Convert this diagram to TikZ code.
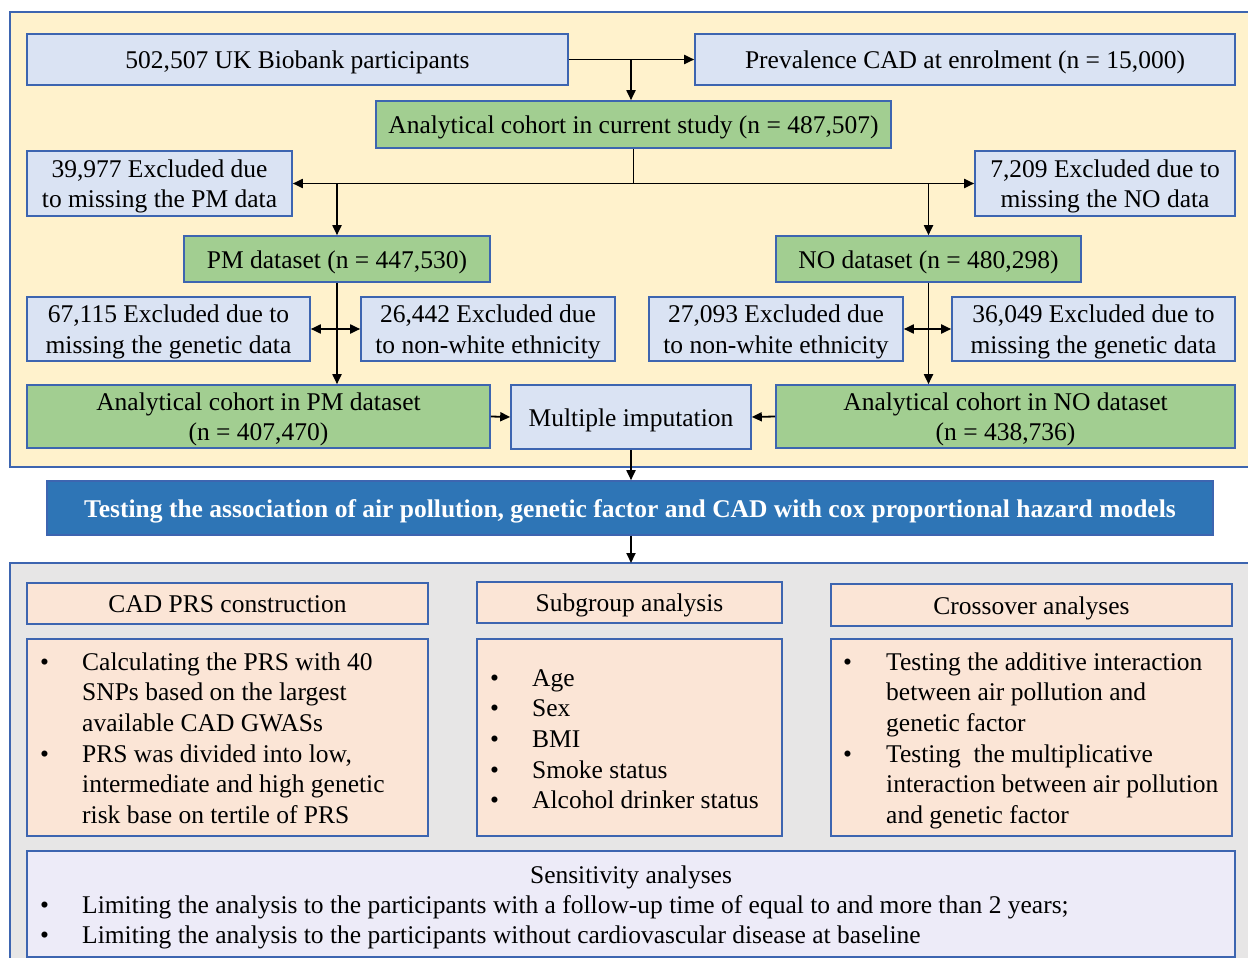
\documentclass[tikz,border=0pt]{standalone}
\usepackage{fontspec}
\setmainfont{Liberation Serif}
\usetikzlibrary{arrows.meta}
\definecolor{bord}{HTML}{3D65B0}
\definecolor{lblue}{HTML}{DAE3F3}
\definecolor{lgreen}{HTML}{A2CE91}
\definecolor{lyel}{HTML}{FFF2CC}
\definecolor{bannerc}{HTML}{2E75B6}
\definecolor{lgray}{HTML}{E7E6E6}
\definecolor{peach}{HTML}{FBE5D6}
\definecolor{lav}{HTML}{EDEBF8}
\newcommand\twol[2]{\begin{tabular}{@{}c@{}}#1\\#2\end{tabular}}
\begin{document}
\begin{tikzpicture}[x=1pt,y=-1pt,
  font=\fontsize{25.5}{30.7}\selectfont,
  box/.style={draw=bord, line width=1.6pt, inner sep=0pt, text height=23pt, text depth=5pt},
  bluebox/.style={box, fill=lblue},
  greenbox/.style={box, fill=lgreen},
  peachbox/.style={box, fill=peach},
  panel/.style={draw=bord, line width=1.6pt},
  listtext/.style={anchor=base west, inner sep=0pt},
  arr/.style={-{Triangle[length=10pt,width=9pt]}, line width=1.8pt},
  darr/.style={{Triangle[length=10pt,width=9pt]}-{Triangle[length=10pt,width=9pt]}, line width=1.8pt}]
\useasboundingbox (0,0) rectangle (1248,958);
\fill[white] (0,0) rectangle (1248,958);
% panels
\draw[panel, fill=lyel] (10,12) rectangle (1254,467);
\draw[panel, fill=lgray] (10,563) rectangle (1254,964);
% top flow
\node[bluebox, minimum width=541pt, minimum height=51pt] (b1) at (297.5,59.5) {502,507 UK Biobank participants};
\node[bluebox, minimum width=540pt, minimum height=51pt] (b2) at (965,59.5) {Prevalence CAD at enrolment (n = 15,000)};
\node[greenbox, minimum width=515pt, minimum height=47pt] (coh) at (633.5,124.5) {Analytical cohort in current study (n = 487,507)};
\node[bluebox, minimum width=265pt, minimum height=65pt] (b3) at (159.5,183.5) {\twol{39,977 Excluded due}{to missing the PM data}};
\node[bluebox, minimum width=260pt, minimum height=65pt] (b4) at (1105,183.5) {\twol{7,209 Excluded due to}{missing the NO data}};
\node[greenbox, minimum width=306pt, minimum height=46pt] (pm) at (337,259) {PM dataset (n = 447,530)};
\node[greenbox, minimum width=305pt, minimum height=46pt] (no) at (928.5,259) {NO dataset (n = 480,298)};
\node[bluebox, minimum width=283pt, minimum height=64pt] (b5) at (168.5,329) {\twol{67,115 Excluded due to}{missing the genetic data}};
\node[bluebox, minimum width=254pt, minimum height=64pt] (b6) at (488,329) {\twol{26,442 Excluded due}{to non-white ethnicity}};
\node[bluebox, minimum width=254pt, minimum height=64pt] (b7) at (776,329) {\twol{27,093 Excluded due}{to non-white ethnicity}};
\node[bluebox, minimum width=283pt, minimum height=64pt] (b8) at (1093.5,329) {\twol{36,049 Excluded due to}{missing the genetic data}};
\node[greenbox, minimum width=463pt, minimum height=63pt] (pmc) at (258.5,416.5) {\twol{Analytical cohort in PM dataset}{(n = 407,470)}};
\node[bluebox, minimum width=240pt, minimum height=64pt] (mi) at (631,417) {Multiple imputation};
\node[greenbox, minimum width=459pt, minimum height=63pt] (noc) at (1005.5,416.5) {\twol{Analytical cohort in NO dataset}{(n = 438,736)}};
\node[box, fill=bannerc, text=white, font=\fontsize{25.5}{30.7}\selectfont\bfseries, minimum width=1166pt, minimum height=54pt] (ban) at (630,508) {Testing the association of air pollution, genetic factor and CAD with cox proportional hazard models};
% connectors
\coordinate (j1) at (b1.east -| mi.north);
\draw[arr] (b1.east) -- (b2.west);
\draw[arr] (j1) -- (j1 |- coh.north);
\coordinate (j2) at (coh.south |- b3.east);
\draw[line width=1.8pt] (coh.south) -- (j2);
\draw[arr] (j2) -- (b3.east);
\draw[arr] (j2) -- (b4.west);
\draw[arr] (pm.north |- b3.east) -- (pm.north);
\draw[arr] (no.north |- b4.west) -- (no.north);
\draw[arr] (pm.south) -- (pm.south |- pmc.north);
\draw[darr] (b5.east) -- (b6.west);
\draw[arr] (no.south) -- (no.south |- noc.north);
\draw[darr] (b7.east) -- (b8.west);
\draw[arr] (pmc.east) -- (mi.west);
\draw[arr] (noc.west) -- (mi.east);
\draw[arr] (mi.south) -- (mi.south |- ban.north);
\coordinate (gtop) at (631,563);
\draw[arr] (ban.south -| gtop) -- (gtop);
% bottom panel
\node[peachbox, minimum width=401pt, minimum height=41pt] (h1) at (227.5,603.5) {CAD PRS construction};
\node[peachbox, minimum width=305pt, minimum height=41pt] (h2) at (629.5,602.5) {Subgroup analysis};
\node[peachbox, minimum width=401pt, minimum height=42pt] (h3) at (1031.5,605) {Crossover analyses};
\node[peachbox, minimum width=401pt, minimum height=197pt] (p1) at (227.5,737.5) {};
\node[peachbox, minimum width=305pt, minimum height=197pt] (p2) at (629.5,737.5) {};
\node[peachbox, minimum width=401pt, minimum height=197pt] (p3) at (1031.5,737.5) {};
\node[box, fill=lav, minimum width=1208pt, minimum height=106pt] (sens) at (631,904) {};
\node[listtext] (t1) at (40,670) {\begin{tabular}[t]{@{}p{42pt}@{}l@{}}
\textbullet & Calculating the PRS with 40\\
 & SNPs based on the largest\\
 & available CAD GWASs\\
\textbullet & PRS was divided into low,\\
 & intermediate and high genetic\\
 & risk base on tertile of PRS
\end{tabular}};
\node[listtext] (t2) at (490,686) {\begin{tabular}[t]{@{}p{42pt}@{}l@{}}
\textbullet & Age\\
\textbullet & Sex\\
\textbullet & BMI\\
\textbullet & Smoke status\\
\textbullet & Alcohol drinker status
\end{tabular}};
\node[listtext] (t3) at (843,670) {\begin{tabular}[t]{@{}p{43pt}@{}l@{}}
\textbullet & Testing the additive interaction\\
 & between air pollution and\\
 & genetic factor\\
\textbullet & Testing\ \ the multiplicative\\
 & interaction between air pollution\\
 & and genetic factor
\end{tabular}};
\node[anchor=base, inner sep=0pt] (st) at (631,883) {Sensitivity analyses};
\node[listtext] (t4) at (40,913) {\begin{tabular}[t]{@{}p{42pt}@{}l@{}}
\textbullet & Limiting the analysis to the participants with a follow-up time of equal to and more than 2 years;\\
\textbullet & Limiting the analysis to the participants without cardiovascular disease at baseline
\end{tabular}};
\end{tikzpicture}
\end{document}
